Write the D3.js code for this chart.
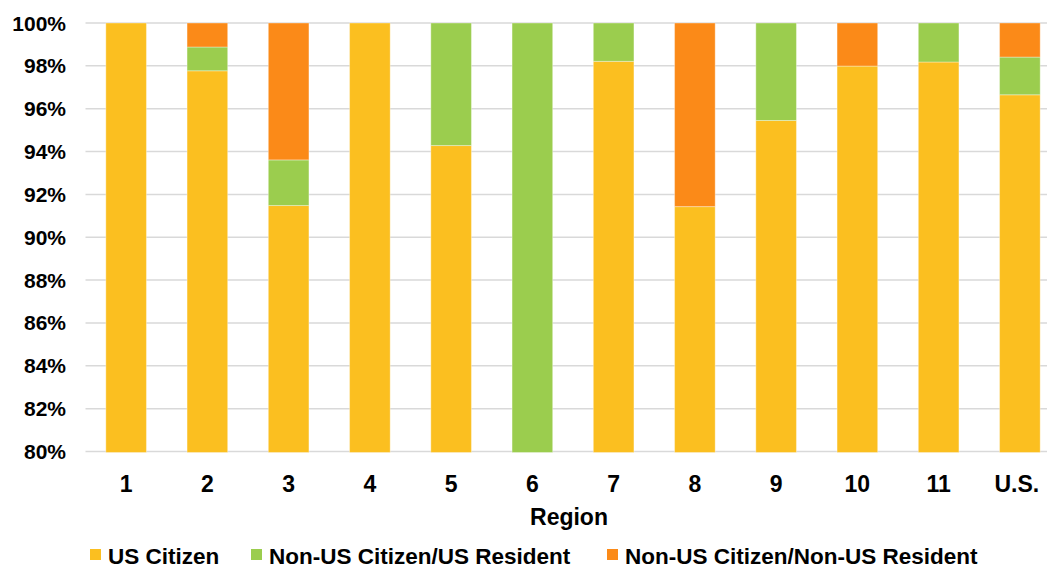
<!DOCTYPE html>
<html>
<head>
<meta charset="utf-8">
<script src="https://cdn.jsdelivr.net/npm/d3@7"></script>
<style>
  html, body { margin: 0; padding: 0; background: #fff; }
  svg { display: block; font-family: "Liberation Sans", Arial, sans-serif; font-weight: bold; }
</style>
</head>
<body>
<svg id="chart" width="1047" height="569"></svg>
<script>
const categories = ["1", "2", "3", "4", "5", "6", "7", "8", "9", "10", "11", "U.S."];
const seriesNames = ["US Citizen", "Non-US Citizen/US Resident", "Non-US Citizen/Non-US Resident"];
const usCitizen      = [100, 97.77, 91.48, 100, 94.28, 79.9, 98.21, 91.43, 95.45, 97.99, 98.18, 96.65];
const nonUsResident  = [0,   1.11,  2.13,  0,   5.72,  20.1, 1.79,  0,     4.55,  0,     1.82,  1.76];
const nonUsNonRes    = [0,   1.12,  6.39,  0,   0,     0,    0,     8.57,  0,     2.01,  0,     1.59];
const yTicks = [80, 82, 84, 86, 88, 90, 92, 94, 96, 98, 100];
const colors = ["#FBBF20", "#9BCD4E", "#FB8A18"];

const svg = d3.select("#chart");
const x = d3.scaleBand().domain(categories).range([85.5, 1060.5]).paddingInner(0.5).paddingOuter(0.25);
const y = d3.scaleLinear().domain([80, 100]).range([451.5, 23]);

// gridlines
svg.append("g").selectAll("line").data(yTicks).join("line")
  .attr("x1", 85.5).attr("x2", 1060)
  .attr("y1", d => y(d)).attr("y2", d => y(d))
  .attr("stroke", "#d9d9d9").attr("stroke-width", 1.5);

// y labels
svg.append("g").selectAll("text").data(yTicks).join("text")
  .attr("x", 66).attr("y", d => y(d) + 7.5)
  .attr("text-anchor", "end").attr("font-size", 21).attr("fill", "#000")
  .text(d => d + "%");

// stacked bars (clipped to the 80%–100% axis range)
const rows = categories.map((c, i) => ({cat: c, s0: usCitizen[i], s1: nonUsResident[i], s2: nonUsNonRes[i]}));
const stack = d3.stack().keys(["s0", "s1", "s2"]);
const stacked = stack(rows);
const barG = svg.append("g");
stacked.forEach((layer, k) => {
  barG.append("g").selectAll("rect")
    .data(layer.filter(d => d[1] - d[0] > 0 && d[1] > 80))
    .join("rect")
    .attr("x", d => x(d.data.cat))
    .attr("width", x.bandwidth())
    .attr("y", d => y(Math.min(100, d[1])))
    .attr("height", d => Math.max(0, y(Math.max(80, d[0])) - y(Math.min(100, d[1]))) + (d[0] < 80 ? 1 : 0))
    .attr("fill", colors[k])
    .attr("stroke", "#ffffff").attr("stroke-opacity", 0.35).attr("stroke-width", 1);
});

// x labels
svg.append("g").selectAll("text").data(categories).join("text")
  .attr("x", d => x(d) + x.bandwidth() / 2 - (d === "U.S." ? 3 : 0))
  .attr("y", 491.5)
  .attr("text-anchor", "middle").attr("font-size", 23).attr("fill", "#000")
  .text(d => d);

// axis title
svg.append("text").attr("x", 569).attr("y", 525).attr("text-anchor", "middle")
  .attr("font-size", 23).attr("fill", "#000").text("Region");

// legend
const legendX = [90, 251, 607];
const lg = svg.append("g");
seriesNames.forEach((name, i) => {
  lg.append("rect").attr("x", legendX[i]).attr("y", 549).attr("width", 11).attr("height", 11).attr("fill", colors[i]);
  lg.append("text").attr("x", legendX[i] + 18).attr("y", 564).attr("font-size", 22.5).attr("fill", "#000").text(name);
});
</script>
</body>
</html>
